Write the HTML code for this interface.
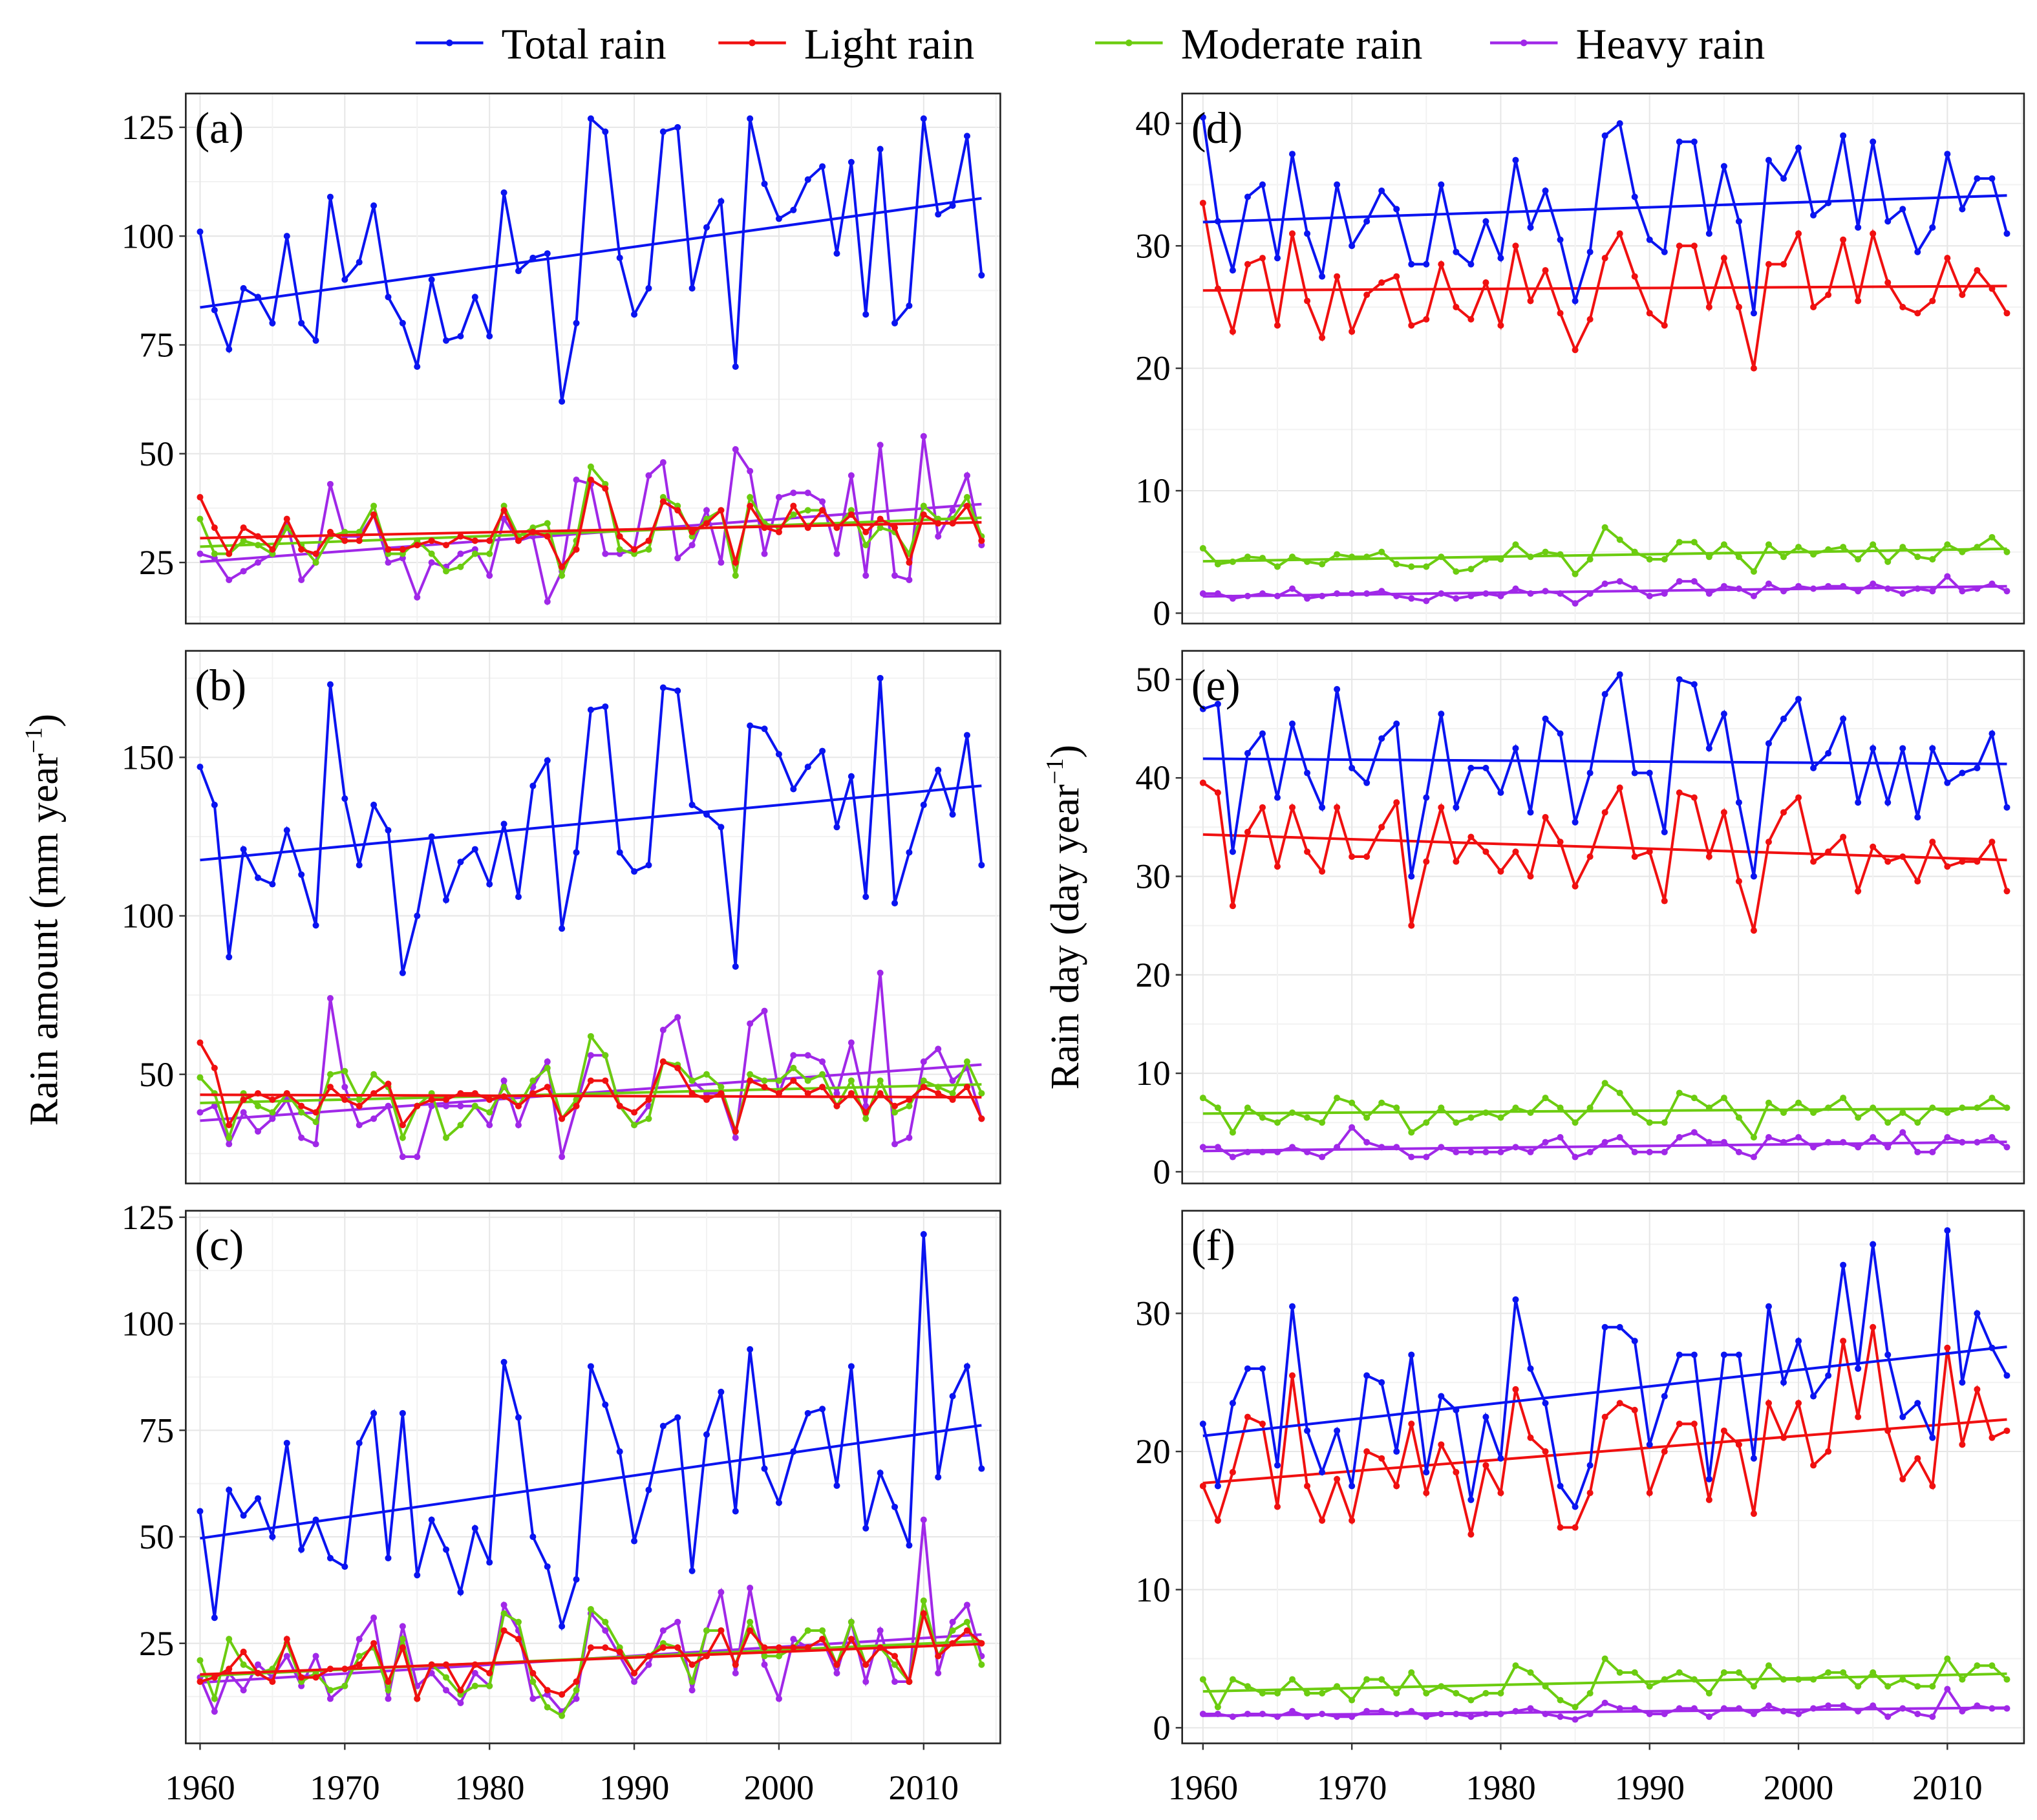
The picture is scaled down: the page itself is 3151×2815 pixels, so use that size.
<!DOCTYPE html>
<html><head><meta charset="utf-8"><style>
html,body{margin:0;padding:0;background:#fff}
svg{display:block}
svg text{font-family:"Liberation Serif","Times New Roman",serif;fill:#000}
</style></head><body>
<svg id="c" width="3151" height="2815" viewBox="0 0 1568 1401" preserveAspectRatio="none" xmlns="http://www.w3.org/2000/svg" font-family="Liberation Serif, serif">
<g id="legend"></g>
<text x="44" y="708" font-size="31" font-family="Liberation Serif, serif" text-anchor="middle" transform="rotate(-90 44 708)">Rain amount (mm year<tspan font-size="19" dy="-12">−1</tspan><tspan dy="12">)</tspan></text>
<text x="830" y="706" font-size="31" font-family="Liberation Serif, serif" text-anchor="middle" transform="rotate(-90 830 706)">Rain day (day year<tspan font-size="19" dy="-12">−1</tspan><tspan dy="12">)</tspan></text>
</svg>
<script>
const years=[];for(let y=1960;y<=2014;y++)years.push(y);
const seriesNames=["Total rain","Light rain","Moderate rain","Heavy rain"];
const colors=["#0a14f0","#f01010","#6ccc10","#a028e8"];
const xTicks=[1960,1970,1980,1990,2000,2010];
const aTotal=[101,83,74,88,86,80,100,80,76,109,90,94,107,86,80,70,90,76,77,86,77,110,92,95,96,62,80,127,124,95,82,88,124,125,88,102,108,70,127,112,104,106,113,116,96,117,82,120,80,84,127,105,107,123,91];
const aLight=[40,33,27,33,31,28,35,28,27,32,30,30,36,28,28,29,30,29,31,30,30,37,30,32,31,24,28,44,42,31,28,30,39,37,32,34,37,25,38,33,32,38,33,37,33,36,32,35,33,25,36,34,34,38,30];
const aMod=[35,27,27,30,29,27,33,29,25,31,32,32,38,27,27,30,27,23,24,27,27,38,31,33,34,22,30,47,43,28,27,28,40,38,31,35,37,22,40,34,33,36,37,37,33,37,29,33,32,27,38,35,35,40,31];
const aHeavy=[27,26,21,23,25,27,34,21,25,43,31,31,36,25,26,17,25,24,27,28,22,35,30,31,16,23,44,43,27,27,28,45,48,26,29,37,25,51,46,27,40,41,41,39,27,45,22,52,22,21,54,31,37,45,29];
const bTotal=[147,135,87,121,112,110,127,113,97,173,137,116,135,127,82,100,125,105,117,121,110,129,106,141,149,96,120,165,166,120,114,116,172,171,135,132,128,84,160,159,151,140,147,152,128,144,106,175,104,120,135,146,132,157,116];
const bLight=[60,52,34,42,44,42,44,40,38,46,42,40,44,47,34,40,42,42,44,44,42,43,40,44,46,36,40,48,48,40,38,42,54,52,44,42,44,32,48,46,44,48,44,46,40,44,38,44,40,42,46,44,42,46,36];
const bMod=[49,44,30,44,40,38,44,38,35,50,51,42,50,46,30,40,44,30,34,40,38,46,40,48,52,36,42,62,56,40,34,36,54,53,48,50,46,32,50,48,48,52,48,50,40,48,36,48,38,40,48,46,44,54,44];
const bHeavy=[38,40,28,38,32,36,42,30,28,74,46,34,36,40,24,24,40,40,40,40,34,48,34,46,54,24,40,56,56,40,34,40,64,68,48,44,44,30,66,70,44,56,56,54,44,60,40,82,28,30,54,58,48,52,36];
const cTotal=[56,31,61,55,59,50,72,47,54,45,43,72,79,45,79,41,54,47,37,52,44,91,78,50,43,29,40,90,81,70,49,61,76,78,42,74,84,56,94,66,58,70,79,80,62,90,52,65,57,48,121,64,83,90,66];
const cLight=[16,17,19,23,18,16,26,17,17,19,19,20,25,16,24,12,20,20,14,20,18,28,26,18,14,13,16,24,24,23,18,22,24,24,20,22,28,20,28,24,24,24,24,26,20,26,20,24,22,16,32,22,25,28,25];
const cMod=[21,12,26,20,18,19,25,16,18,14,15,22,24,14,26,12,20,17,13,15,15,32,30,16,10,8,14,33,30,24,18,22,25,24,16,28,28,20,30,22,22,24,28,28,20,30,20,24,20,16,35,22,28,30,20];
const cHeavy=[17,9,18,14,20,17,22,15,22,12,15,26,31,12,29,15,18,14,11,18,15,34,28,12,13,9,12,32,28,22,16,20,28,30,14,28,37,18,38,20,12,26,24,26,18,30,16,28,16,16,54,18,30,34,22];
const dTotal=[40.5,32,28,34,35,29,37.5,31,27.5,35,30,32,34.5,33,28.5,28.5,35,29.5,28.5,32,29,37,31.5,34.5,30.5,25.5,29.5,39,40,34,30.5,29.5,38.5,38.5,31,36.5,32,24.5,37,35.5,38,32.5,33.5,39,31.5,38.5,32,33,29.5,31.5,37.5,33,35.5,35.5,31];
const dLight=[33.5,26.5,23,28.5,29,23.5,31,25.5,22.5,27.5,23,26,27,27.5,23.5,24,28.5,25,24,27,23.5,30,25.5,28,24.5,21.5,24,29,31,27.5,24.5,23.5,30,30,25,29,25,20,28.5,28.5,31,25,26,30.5,25.5,31,27,25,24.5,25.5,29,26,28,26.5,24.5];
const dMod=[5.3,4,4.2,4.6,4.5,3.8,4.6,4.2,4,4.8,4.6,4.6,5,4,3.8,3.8,4.6,3.4,3.6,4.4,4.4,5.6,4.6,5,4.8,3.2,4.4,7,6,5,4.4,4.4,5.8,5.8,4.6,5.6,4.6,3.4,5.6,4.6,5.4,4.8,5.2,5.4,4.4,5.6,4.2,5.4,4.6,4.4,5.6,5,5.4,6.2,5];
const dHeavy=[1.6,1.6,1.2,1.4,1.6,1.4,2,1.2,1.4,1.6,1.6,1.6,1.8,1.4,1.2,1,1.6,1.2,1.4,1.6,1.4,2,1.6,1.8,1.6,0.8,1.6,2.4,2.6,2,1.4,1.6,2.6,2.6,1.6,2.2,2,1.4,2.4,1.8,2.2,2,2.2,2.2,1.8,2.4,2,1.6,2,1.8,3,1.8,2,2.4,1.8];
const eTotal=[47,47.5,32.5,42.5,44.5,38,45.5,40.5,37,49,41,39.5,44,45.5,30,38,46.5,37,41,41,38.5,43,36.5,46,44.5,35.5,40.5,48.5,50.5,40.5,40.5,34.5,50,49.5,43,46.5,37.5,30,43.5,46,48,41,42.5,46,37.5,43,37.5,43,36,43,39.5,40.5,41,44.5,37];
const eLight=[39.5,38.5,27,34.5,37,31,37,32.5,30.5,37,32,32,35,37.5,25,31.5,37,31.5,34,32.5,30.5,32.5,30,36,33.5,29,32,36.5,39,32,32.5,27.5,38.5,38,32,36.5,29.5,24.5,33.5,36.5,38,31.5,32.5,34,28.5,33,31.5,32,29.5,33.5,31,31.5,31.5,33.5,28.5];
const eMod=[7.5,6.5,4,6.5,5.5,5,6,5.5,5,7.5,7,5.5,7,6.5,4,5,6.5,5,5.5,6,5.5,6.5,6,7.5,6.5,5,6.5,9,8,6,5,5,8,7.5,6.5,7.5,5.5,3.5,7,6,7,6,6.5,7.5,5.5,6.5,5,6,5,6.5,6,6.5,6.5,7.5,6.5];
const eHeavy=[2.5,2.5,1.5,2,2,2,2.5,2,1.5,2.5,4.5,3,2.5,2.5,1.5,1.5,2.5,2,2,2,2,2.5,2,3,3.5,1.5,2,3,3.5,2,2,2,3.5,4,3,3,2,1.5,3.5,3,3.5,2.5,3,3,2.5,3.5,2.5,4,2,2,3.5,3,3,3.5,2.5];
const fTotal=[22,17.5,23.5,26,26,19,30.5,21.5,18.5,21.5,17.5,25.5,25,20,27,18.5,24,23,16.5,22.5,19.5,31,26,23.5,17.5,16,19,29,29,28,20.5,24,27,27,18,27,27,19.5,30.5,25,28,24,25.5,33.5,26,35,27,22.5,23.5,21,36,25,30,27.5,25.5];
const fLight=[17.5,15,18.5,22.5,22,16,25.5,17.5,15,18,15,20,19.5,17.5,22,17,20.5,18.5,14,19,17,24.5,21,20,14.5,14.5,17,22.5,23.5,23,17,20,22,22,16.5,21.5,20.5,15.5,23.5,21,23.5,19,20,28,22.5,29,21.5,18,19.5,17.5,27.5,20.5,24.5,21,21.5];
const fMod=[3.5,1.5,3.5,3,2.5,2.5,3.5,2.5,2.5,3,2,3.5,3.5,2.5,4,2.5,3,2.5,2,2.5,2.5,4.5,4,3,2,1.5,2.5,5,4,4,3,3.5,4,3.5,2.5,4,4,3,4.5,3.5,3.5,3.5,4,4,3,4,3,3.5,3,3,5,3.5,4.5,4.5,3.5];
const fHeavy=[1,1,0.8,1,1,0.8,1.2,0.8,1,0.8,0.8,1.2,1.2,1,1.2,0.8,1,1,0.8,1,1,1.2,1.4,1,0.8,0.6,1,1.8,1.4,1.4,1,1,1.4,1.4,0.8,1.4,1.4,1,1.6,1.2,1,1.4,1.6,1.6,1.2,1.6,0.8,1.4,1,0.8,2.8,1.2,1.6,1.4,1.4];
const aTicks=[25,50,75,100,125], bTicks=[50,100,150], cTicks=[25,50,75,100,125];
const dTicks=[0,10,20,30,40], eTicks=[0,10,20,30,40,50], fTicks=[0,10,20,30];

const svg=document.getElementById('c');const NS="http://www.w3.org/2000/svg";
const FF="Liberation Serif, serif";
function el(tag,attrs,parent){const e=document.createElementNS(NS,tag);for(const k in attrs)e.setAttribute(k,attrs[k]);(parent||svg).appendChild(e);return e;}

const panels=[
 {id:"a",label:"(a)",x0:143,x1:770,y0:72,y1:480,xa:154,xb:711,va:125,pa:98,vb:25,pb:433,ticks:aTicks,s:[aTotal,aLight,aMod,aHeavy]},
 {id:"b",label:"(b)",x0:143,x1:770,y0:501,y1:911,xa:154,xb:711,va:150,pa:583,vb:50,pb:827,ticks:bTicks,s:[bTotal,bLight,bMod,bHeavy]},
 {id:"c",label:"(c)",x0:143,x1:770,y0:932,y1:1342,xa:154,xb:711,va:125,pa:937,vb:25,pb:1265,ticks:cTicks,s:[cTotal,cLight,cMod,cHeavy],xl:true},
 {id:"d",label:"(d)",x0:910,x1:1558,y0:72,y1:480,xa:926,xb:1499,va:40,pa:95,vb:0,pb:472,ticks:dTicks,s:[dTotal,dLight,dMod,dHeavy]},
 {id:"e",label:"(e)",x0:910,x1:1558,y0:501,y1:911,xa:926,xb:1499,va:50,pa:523,vb:0,pb:902,ticks:eTicks,s:[eTotal,eLight,eMod,eHeavy]},
 {id:"f",label:"(f)",x0:910,x1:1558,y0:932,y1:1342,xa:926,xb:1499,va:30,pa:1011,vb:0,pb:1330,ticks:fTicks,s:[fTotal,fLight,fMod,fHeavy],xl:true}
];
panels.forEach(p=>{
 const g=el('g',{});
 
 
 const X=yr=>p.xa+(yr-1960)*(p.xb-p.xa)/50;
 const Y=v=>p.pb+(v-p.vb)*(p.pa-p.pb)/(p.va-p.vb);
 const step=p.ticks[1]-p.ticks[0];
 for(let v=p.ticks[0]-step;v<=p.ticks[p.ticks.length-1]+step;v+=step/2){const yy=Y(v);if(yy>p.y0&&yy<p.y1)el('line',{x1:p.x0,x2:p.x1,y1:yy,y2:yy,stroke:Number.isInteger((v-p.ticks[0])/step)?'#e6e6e6':'#f2f2f2','stroke-width':1},g);}
 for(let yr=1955;yr<=2020;yr+=5){const xx=X(yr);if(xx>p.x0&&xx<p.x1)el('line',{x1:xx,x2:xx,y1:p.y0,y2:p.y1,stroke:yr%10==0?'#e6e6e6':'#f2f2f2','stroke-width':1},g);}
 for(let i=3;i>=0;i--){
  const d=p.s[i];const n=Math.min(d.length,years.length);
  let pts=[];for(let k=0;k<n;k++)pts.push(X(years[k]).toFixed(2)+','+Y(d[k]).toFixed(2));
  const pl=el('polyline',{points:pts.join(' '),fill:'none',stroke:colors[i],'stroke-width':2},g);
  
  
  for(let k=0;k<n;k++){const c=el('circle',{cx:X(years[k]),cy:Y(d[k]),r:2.5,fill:colors[i]},g);
   
   }
  let sx=0,sy=0,sxx=0,sxy=0;for(let k=0;k<n;k++){sx+=years[k];sy+=d[k];sxx+=years[k]*years[k];sxy+=years[k]*d[k];}
  const b=(n*sxy-sx*sy)/(n*sxx-sx*sx),a=(sy-b*sx)/n;
  const t=el('line',{x1:X(1960),y1:Y(a+b*1960),x2:X(2014),y2:Y(a+b*2014),stroke:colors[i],'stroke-width':2},g);
  
  
 }
 el('rect',{x:p.x0,y:p.y0,width:p.x1-p.x0,height:p.y1-p.y0,fill:'none',stroke:'#222','stroke-width':1.3},g);
 const lb=el('text',{x:p.x0+7,y:p.y0+38,'font-size':34,'font-family':FF},g);lb.textContent=p.label;
 
 
 p.ticks.forEach(v=>{const yy=Y(v);el('line',{x1:p.x0-5,x2:p.x0,y1:yy,y2:yy,stroke:'#333','stroke-width':1.2},g);
  const t=el('text',{x:p.x0-9,y:yy+9,'font-size':27,'text-anchor':'end','font-family':FF},g);t.textContent=v;
  
  });
 if(p.xl){xTicks.forEach(yr=>{const xx=X(yr);el('line',{x1:xx,x2:xx,y1:p.y1,y2:p.y1+5,stroke:'#333','stroke-width':1.2},g);
  const t=el('text',{x:xx,y:p.y1+43,'font-size':27,'text-anchor':'middle','font-family':FF},g);t.textContent=yr;
  
  });}
});
const lg=document.getElementById('legend');
const lx=[320,553,843,1147];
seriesNames.forEach((s,i)=>{
 const g=el('g',{},lg);
 
 
 el('line',{x1:lx[i],x2:lx[i]+52,y1:33,y2:33,stroke:colors[i],'stroke-width':2.2},g);
 el('circle',{cx:lx[i]+26,cy:33,r:2.6,fill:colors[i]},g);
 const t=el('text',{x:lx[i]+66,y:45,'font-size':33,'font-family':FF},g);t.textContent=s;
});
</script>
</body></html>
